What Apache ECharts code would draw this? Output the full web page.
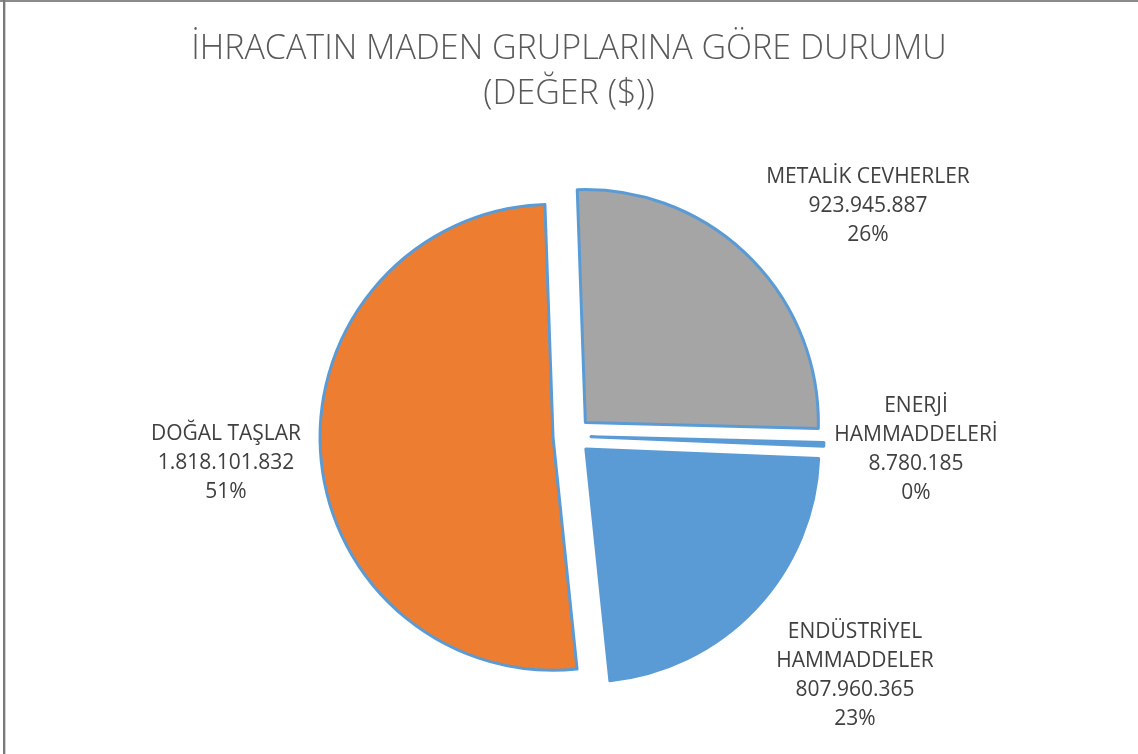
<!DOCTYPE html>
<html>
<head>
<meta charset="utf-8">
<script src="https://cdn.jsdelivr.net/npm/echarts@6/dist/echarts.min.js"></script>
<style>
  html, body { margin: 0; padding: 0; background: #ffffff; }
  #chart { width: 1138px; height: 754px; }
</style>
</head>
<body>
<div id="chart"></div>
<script>
// ---- Data ----
var categories = ['METALİK CEVHERLER', 'ENERJİ\nHAMMADDELERİ', 'ENDÜSTRİYEL\nHAMMADDELER', 'DOĞAL TAŞLAR'];
var values = [923945887, 8780185, 807960365, 1818101832];
var colors = ['#A5A5A5', '#5B9BD5', '#5B9BD5', '#ED7D31'];
var titleLines = ['İHRACATIN MADEN GRUPLARINA GÖRE DURUMU', '(DEĞER ($))'];

// ---- Layout (label centres relative to pie centre) ----
var pieCenter = [572, 436];
var pieRadius = 233;
var labelOffsets = [[296, -230], [344, 14], [283, 240], [-346, 27]];

function fmtNum(v) {
  return String(v).replace(/\B(?=(\d{3})+(?!\d))/g, '.');
}

var chart = echarts.init(document.getElementById('chart'), null, { renderer: 'canvas' });

var sliceData = categories.map(function (c, i) {
  return { name: c, value: values[i], selected: true, itemStyle: { color: colors[i] } };
});
var labelData = categories.map(function (c, i) {
  return { name: c, value: values[i] };
});

chart.setOption({
  animation: false,
  backgroundColor: '#ffffff',
  title: {
    text: titleLines.join('\n'),
    left: 'center',
    top: 22,
    textStyle: {
      fontFamily: 'Open Sans',
      fontWeight: 300,
      fontSize: 34,
      lineHeight: 45,
      color: '#595959'
    }
  },
  graphic: [
    { type: 'rect', shape: { x: 0, y: 0, width: 1138, height: 2 }, style: { fill: '#8a8a8a' }, silent: true },
    { type: 'rect', shape: { x: 3, y: 0, width: 2, height: 754 }, style: { fill: '#7a7a7a' }, silent: true },
    { type: 'rect', shape: { x: 5, y: 2, width: 1, height: 752 }, style: { fill: '#d0d0d0' }, silent: true }
  ],
  series: [{
    type: 'pie',
    center: pieCenter,
    radius: [0, pieRadius],
    startAngle: 92,
    clockwise: true,
    selectedMode: 'multiple',
    selectedOffset: 19,
    avoidLabelOverlap: false,
    itemStyle: { borderColor: '#5B9BD5', borderWidth: 3 },
    emphasis: { disabled: true },
    select: { itemStyle: { borderColor: '#5B9BD5', borderWidth: 3 } },
    labelLine: { show: false },
    label: { show: false },
    data: sliceData
  }, {
    type: 'pie',
    silent: true,
    center: pieCenter,
    radius: [0, pieRadius],
    startAngle: 92,
    clockwise: true,
    selectedMode: false,
    avoidLabelOverlap: false,
    percentPrecision: 2,
    itemStyle: { color: 'rgba(0,0,0,0)', borderWidth: 0 },
    emphasis: { disabled: true },
    labelLine: { show: false },
    label: {
      show: true,
      position: 'outside',
      fontFamily: 'Open Sans',
      fontSize: 21,
      lineHeight: 29,
      color: '#404040',
      align: 'center',
      formatter: function (p) {
        return p.name + '\n' + fmtNum(p.value) + '\n' + Math.round(p.percent) + '%';
      }
    },
    labelLayout: function (p) {
      var o = labelOffsets[p.dataIndex];
      return {
        x: pieCenter[0] + o[0],
        y: pieCenter[1] + o[1],
        align: 'center',
        verticalAlign: 'middle'
      };
    },
    data: labelData
  }]
});
</script>
</body>
</html>
